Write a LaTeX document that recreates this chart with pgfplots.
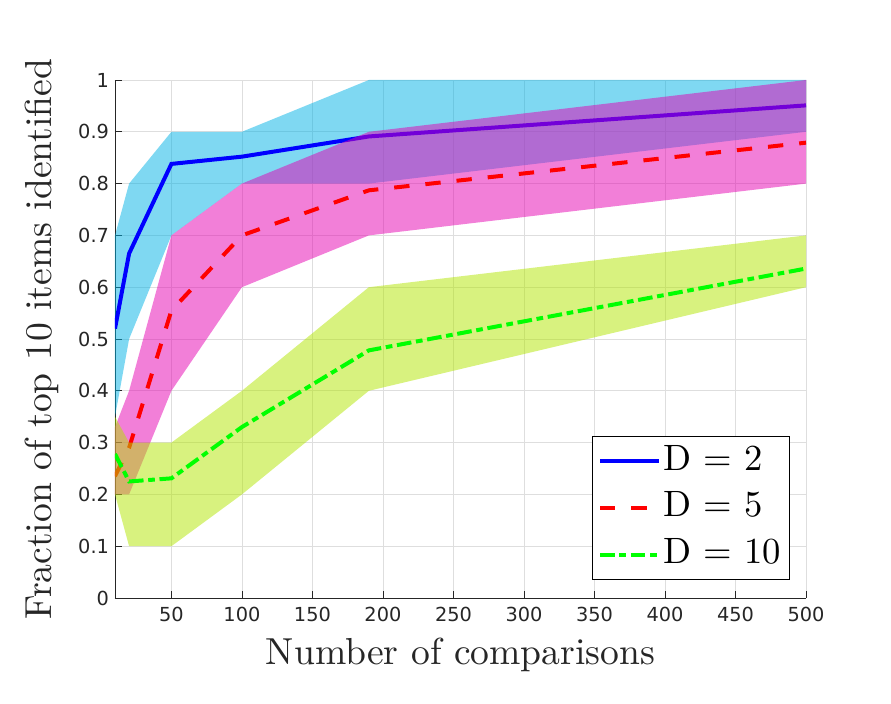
\documentclass[border=0pt]{standalone}
\usepackage{fontspec}
\setmainfont{lmroman10-regular.otf}
\newfontfamily\dejavu{DejaVu Sans}
\usepackage{pgfplots}
\pgfplotsset{compat=1.18}
\definecolor{bandC}{rgb}{0,0.7,0.9}
\definecolor{bandM}{rgb}{0.9,0,0.7}
\definecolor{bandY}{rgb}{0.7,0.9,0}
\definecolor{txt}{rgb}{0.15,0.15,0.15}
\begin{document}
\begin{tikzpicture}
\useasboundingbox (-86.25pt,-78.75pt) rectangle (582pt,448.5pt);
\begin{axis}[
  scale only axis, width=518.25pt, height=388.5pt,
  xmin=10, xmax=500, ymin=0, ymax=1,
  xtick={50,100,150,200,250,300,350,400,450,500},
  ytick={0,0.1,0.2,0.3,0.4,0.5,0.6,0.7,0.8,0.9,1},
  axis x line*=bottom, axis y line*=left,
  axis line style={txt, line width=0.6pt, -},
  tick align=inside, major tick length=5pt,
  tick style={txt, line width=0.6pt},
  grid=major, major grid style={black!13, line width=0.5pt},
  /pgf/number format/assume math mode=true,
  ticklabel style={font=\dejavu\fontsize{14.5}{17}\selectfont, text=txt},
  xticklabel style={yshift=-3pt},
  yticklabel style={xshift=-1pt},
  xlabel={Number of comparisons},
  ylabel={Fraction of top 10 items identified},
  label style={font=\fontsize{28.2}{34}\selectfont, text=txt},
  x label style={at={(axis description cs:0.5,-0.110)}, anchor=center},
  y label style={at={(axis description cs:-0.1056,0.5)}, anchor=center, rotate=0},
  legend style={at={(axis description cs:0.977,0.035)}, anchor=south east,
    draw=black, line width=0.6pt, fill=white,
    font=\fontsize{27.5}{33}\selectfont,
    inner xsep=4.5pt, inner ysep=5pt,
    nodes={inner xsep=2pt, inner ysep=0pt, text height=20pt, text depth=7pt},
    row sep=8pt},
  legend cell align=left,
  legend image code/.code={\draw[#1] (-1pt,0pt) -- (43pt,0pt);},
]
% D = 2 band
\addplot[fill=bandC, fill opacity=0.5, draw=none, forget plot] coordinates {
 (10,0.70) (20,0.80) (50,0.90) (100,0.90) (190,1.00) (500,1.00)
 (500,0.90) (190,0.80) (100,0.80) (50,0.70) (20,0.50) (10,0.35)} -- cycle;
\addplot[blue, line width=3pt] coordinates {
 (10,0.520) (20,0.665) (50,0.838) (100,0.852) (190,0.891) (500,0.951)};
\addlegendentry{D = 2}
% D = 5 band
\addplot[fill=bandM, fill opacity=0.5, draw=none, forget plot] coordinates {
 (10,0.33) (20,0.40) (50,0.70) (100,0.80) (190,0.90) (500,1.00)
 (500,0.80) (190,0.70) (100,0.60) (50,0.40) (20,0.20) (10,0.20)} -- cycle;
\addplot[red, line width=3pt, dash pattern=on 11.5pt off 12pt] coordinates {
 (10,0.235) (20,0.290) (50,0.555) (100,0.700) (190,0.787) (500,0.879)};
\addlegendentry{D = 5}
% D = 10 band
\addplot[fill=bandY, fill opacity=0.5, draw=none, forget plot] coordinates {
 (10,0.35) (20,0.30) (50,0.30) (100,0.40) (190,0.60) (500,0.70)
 (500,0.60) (190,0.40) (100,0.20) (50,0.10) (20,0.10) (10,0.20)} -- cycle;
\addplot[green, line width=3pt, dash pattern=on 11pt off 3.5pt on 5pt off 3.5pt] coordinates {
 (10,0.278) (20,0.225) (50,0.231) (100,0.330) (190,0.478) (500,0.636)};
\addlegendentry{D = 10}
\end{axis}
\end{tikzpicture}
\end{document}
